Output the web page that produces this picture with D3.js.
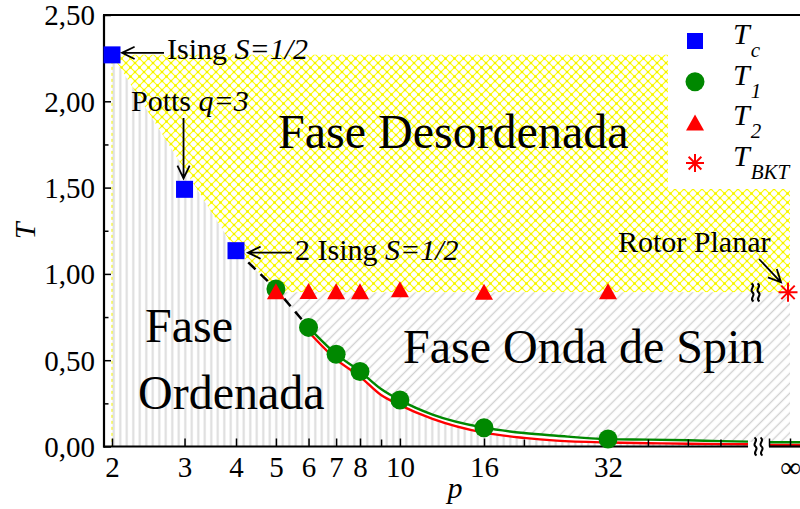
<!DOCTYPE html>
<html>
<head>
<meta charset="utf-8">
<script src="https://cdn.jsdelivr.net/npm/d3@7"></script>
<style>
  html, body { margin: 0; padding: 0; background: #fff; }
  svg { display: block; }
  text { font-family: "Liberation Serif", "Times New Roman", serif; fill: #000; }
</style>
</head>
<body>
<svg id="chart" width="800" height="509"></svg>
<script>
// ---- data ----
const pTc = [2, 3, 4];
const Tc = [2.269, 1.490, 1.1346];
const pT1 = [5, 6, 7, 8, 10, 16, 32];
const T1 = [0.913, 0.690, 0.535, 0.435, 0.269, 0.109, 0.043];
const pT2 = [5, 6, 7, 8, 10, 16, 32];
const T2 = [0.899, 0.901, 0.900, 0.900, 0.911, 0.897, 0.900];
const T_BKT = 0.893;

// fitted T1(p) and T2(p) curves sampled along p
const pFit = [6, 7, 8, 9, 10, 12, 16, 20, 24, 32, 40, 50, 60, 70];
const fitGreen = [0.690, 0.535, 0.435, 0.333, 0.269, 0.185, 0.109, 0.078, 0.0625, 0.043, 0.040, 0.036, 0.031, 0.028];
const fitRed = [0.665, 0.505, 0.405, 0.298, 0.240, 0.160, 0.080, 0.050, 0.034, 0.023, 0.019, 0.016, 0.014, 0.013];
const fitGreenInf = 0.025;
const fitRedInf = 0.009;

// axis ticks
const xTickLabels = [2, 3, 4, 5, 6, 7, 8, 10, 16, 32];
const xTickMinor = [9, 20, 40, 50, 60];
const yTickMajor = [0, 0.5, 1.0, 1.5, 2.0, 2.5];
const yTickMinor = [0.25, 0.75, 1.25, 1.75, 2.25];

// ---- scales ----
const x = d3.scaleLog().base(2).domain([2, 70]).range([112, 112 + 124 * Math.log2(35)]);
const xTail = d3.scaleLinear().domain([0, 1]).range([769, 811]);   // segment after the axis break, ∞ at 0.5
const y = d3.scaleLinear().domain([0, 2.5]).range([446.5, 15]);
const xLeft = 104, xRight = 800;
const xInf = xTail(0.5);

const svg = d3.select("#chart");
const defs = svg.append("defs");

// patterns
const pv = defs.append("pattern").attr("id", "vert").attr("patternUnits", "userSpaceOnUse")
  .attr("width", 6.5).attr("height", 10);
pv.append("rect").attr("width", 6.5).attr("height", 10).attr("fill", "#fff");
pv.append("line").attr("x1", 3.25).attr("x2", 3.25).attr("y1", 0).attr("y2", 10)
  .attr("stroke", "#dcdcdc").attr("stroke-width", 2);

const pd = defs.append("pattern").attr("id", "diag").attr("patternUnits", "userSpaceOnUse")
  .attr("width", 7).attr("height", 10).attr("patternTransform", "rotate(45)");
pd.append("rect").attr("width", 7).attr("height", 10).attr("fill", "#fff");
pd.append("line").attr("x1", 3.5).attr("x2", 3.5).attr("y1", 0).attr("y2", 10)
  .attr("stroke", "#d2d2d2").attr("stroke-width", 1.4);

const cs = 9;
const py = defs.append("pattern").attr("id", "cross").attr("patternUnits", "userSpaceOnUse")
  .attr("width", cs).attr("height", cs);
py.append("rect").attr("width", cs).attr("height", cs).attr("fill", "#fff");
py.append("path").attr("d", `M0,0L${cs},${cs}M${cs},0L0,${cs}`)
  .attr("stroke", "#ffff00").attr("stroke-width", 1.1).attr("fill", "none");
[[0, 0], [cs, 0], [0, cs], [cs, cs], [cs / 2, cs / 2]].forEach(([cx, cy]) =>
  py.append("circle").attr("cx", cx).attr("cy", cy).attr("r", 1.3).attr("fill", "#f2f200"));

// ---- phase regions ----
const P = (p, t) => [x(p), y(t)];
// where the dashed boundary crosses T_BKT (between p=5 and p=6)
const a = P(5, T1[0]), b = P(6, T1[1]);
const fr = (y(T_BKT) - a[1]) / (b[1] - a[1]);
const cross = [a[0] + fr * (b[0] - a[0]), y(T_BKT)];

const greenPts = pFit.map((p, i) => P(p, fitGreen[i]));
const redPts = pFit.map((p, i) => P(p, fitRed[i]));

// ordered phase
const ordered = [P(2, Tc[0]), P(4, Tc[2]), a, b, ...redPts, [x(70), y(0)], [x(2), y(0)]];
svg.append("path").attr("d", d3.line()(ordered) + "Z").attr("fill", "url(#vert)");

// disordered phase
const disordered = [P(2, Tc[0]), [xInf, y(Tc[0])], [xInf, y(T_BKT)], cross, a, P(4, Tc[2])];
svg.append("path").attr("d", d3.line()(disordered) + "Z").attr("fill", "url(#cross)");

// spin-wave phase
const spin = [cross, [xInf, y(T_BKT)], [xInf, y(fitGreenInf)], [xTail(0), y(fitGreenInf)],
  ...greenPts.slice().reverse()];
svg.append("path").attr("d", d3.line()(spin) + "Z").attr("fill", "url(#diag)");

// faint boundary at p = 2
svg.append("line").attr("x1", x(2)).attr("x2", x(2)).attr("y1", y(Tc[0])).attr("y2", y(0))
  .attr("stroke", "#f0f000").attr("stroke-width", 1).attr("stroke-dasharray", "3,3");

// legend box
svg.append("rect").attr("x", 668).attr("y", y(2.5)).attr("width", xRight - 668).attr("height", 189 - y(2.5))
  .attr("fill", "#fff");

// ---- fitted curves ----
const smooth = d3.line().curve(d3.curveMonotoneX);
svg.append("path").attr("d", smooth(redPts)).attr("fill", "none").attr("stroke", "#ff0000").attr("stroke-width", 2.4);
svg.append("path").attr("d", smooth(greenPts)).attr("fill", "none").attr("stroke", "#008800").attr("stroke-width", 2.4);
svg.append("line").attr("x1", xTail(0)).attr("x2", xTail(1)).attr("y1", y(fitRedInf)).attr("y2", y(fitRedInf))
  .attr("stroke", "#ff0000").attr("stroke-width", 2.4);
svg.append("line").attr("x1", xTail(0)).attr("x2", xTail(1)).attr("y1", y(fitGreenInf)).attr("y2", y(fitGreenInf))
  .attr("stroke", "#008800").attr("stroke-width", 2.4);

// dashed boundary from Tc(4) to the T1 branch
svg.append("path").attr("d", d3.line()([P(4, Tc[2]), a, b])).attr("fill", "none")
  .attr("stroke", "#000").attr("stroke-width", 2.5).attr("stroke-dasharray", "10,7");

// ---- axes ----
const fmt = d => d3.format(".2f")(d).replace(".", ",");
const gy = svg.append("g").attr("transform", `translate(${xLeft},0)`);
gy.call(d3.axisLeft(y).tickValues(yTickMajor).tickSize(-7).tickPadding(9).tickFormat(fmt));
gy.append("g").call(d3.axisLeft(y).tickValues(yTickMinor).tickSize(-4.5).tickFormat(""));
gy.selectAll(".domain").remove();
gy.selectAll("line").attr("stroke", "#000").attr("stroke-width", 1.5);
gy.selectAll("text").attr("font-size", 29).attr("font-family", "Liberation Serif, serif").attr("dy", "0.34em");

const gx = svg.append("g").attr("transform", `translate(0,${y(0)})`);
gx.call(d3.axisBottom(x).tickValues(xTickLabels).tickSize(-8).tickPadding(10).tickFormat(d3.format("d")));
gx.append("g").call(d3.axisBottom(x).tickValues(xTickMinor).tickSize(-7).tickFormat(""));
gx.selectAll(".domain").remove();
gx.selectAll("line").attr("stroke", "#000").attr("stroke-width", 1.5);
gx.selectAll("text").attr("font-size", 29).attr("font-family", "Liberation Serif, serif");

// tail of the axis after the break
const gxt = svg.append("g").attr("transform", `translate(0,${y(0)})`);
gxt.call(d3.axisBottom(xTail).tickValues([0, 0.5]).tickSize(-8).tickPadding(10)
  .tickFormat(d => d === 0.5 ? "∞" : ""));
gxt.selectAll(".domain").remove();
gxt.selectAll("line").attr("stroke", "#000").attr("stroke-width", 1.5);
gxt.selectAll("text").attr("font-size", 29).attr("font-family", "Liberation Serif, serif");

// frame lines
svg.append("line").attr("x1", xLeft).attr("x2", xLeft).attr("y1", y(2.5)).attr("y2", y(0) + 1)
  .attr("stroke", "#000").attr("stroke-width", 2.2);
svg.append("line").attr("x1", xLeft - 1).attr("x2", xRight).attr("y1", y(2.5)).attr("y2", y(2.5))
  .attr("stroke", "#000").attr("stroke-width", 2.2);
svg.append("line").attr("x1", xLeft - 1).attr("x2", x(70)).attr("y1", y(0)).attr("y2", y(0))
  .attr("stroke", "#000").attr("stroke-width", 2.2);
svg.append("line").attr("x1", xTail(0)).attr("x2", xRight).attr("y1", y(0)).attr("y2", y(0))
  .attr("stroke", "#000").attr("stroke-width", 2.2);

// break marks
function breakMark(cx, cy) {
  const g = svg.append("g").attr("transform", `translate(${cx},${cy})`);
  [-3, 3].forEach(dx => {
    g.append("path")
      .attr("d", `M${dx - 1},-9 C${dx + 4},-6 ${dx - 4},-3 ${dx},0 C${dx + 4},3 ${dx - 4},6 ${dx + 1},9`)
      .attr("fill", "none").attr("stroke", "#000").attr("stroke-width", 2);
  });
}
breakMark((x(70) + xTail(0)) / 2 - 3, y(T_BKT));
breakMark((x(70) + xTail(0)) / 2, y(0));

// ---- markers ----
const triPath = (w, h) => `M0,${-h / 2}L${w / 2},${h / 2}L${-w / 2},${h / 2}Z`;
svg.append("g").selectAll("circle").data(pT1).join("circle")
  .attr("cx", d => x(d)).attr("cy", (d, i) => y(T1[i])).attr("r", 9.5).attr("fill", "#008800");
svg.append("g").selectAll("path").data(pT2).join("path")
  .attr("transform", (d, i) => `translate(${x(d)},${y(T2[i])})`)
  .attr("d", triPath(18, 16)).attr("fill", "#ff0000");
svg.append("g").selectAll("rect").data(pTc).join("rect")
  .attr("x", d => x(d) - 8.5).attr("y", (d, i) => y(Tc[i]) - 8.5)
  .attr("width", 17).attr("height", 17).attr("fill", "#0000ff");

function asterisk(cx, cy, r) {
  const g = svg.append("g").attr("transform", `translate(${cx},${cy})`);
  const d = r * Math.SQRT1_2;
  g.append("path").attr("d", `M0,${-r}V${r}M${-r},0H${r}M${-d},${-d}L${d},${d}M${-d},${d}L${d},${-d}`)
    .attr("stroke", "#ff0000").attr("stroke-width", 2).attr("fill", "none");
}
asterisk(xInf - 2, y(T_BKT), 9.5);

// ---- legend ----
const legendRows = [
  { sub: "c", kind: "square" },
  { sub: "1", kind: "circle" },
  { sub: "2", kind: "triangle" },
  { sub: "BKT", kind: "asterisk" }
];
legendRows.forEach((r, i) => {
  const cy = 41 + i * 40.7;
  if (r.kind === "square") svg.append("rect").attr("x", 695 - 8).attr("y", cy - 8).attr("width", 16).attr("height", 16).attr("fill", "#0000ff");
  if (r.kind === "circle") svg.append("circle").attr("cx", 695).attr("cy", cy).attr("r", 9.5).attr("fill", "#008800");
  if (r.kind === "triangle") svg.append("path").attr("transform", `translate(695,${cy})`).attr("d", triPath(18, 16)).attr("fill", "#ff0000");
  if (r.kind === "asterisk") asterisk(695, cy, 9);
  const t = svg.append("text").attr("x", 733).attr("y", cy + 3).attr("font-size", 30).attr("font-style", "italic");
  t.append("tspan").text("T");
  t.append("tspan").attr("dy", 13).attr("dx", 1).attr("font-size", 21).text(r.sub);
});

// ---- annotations ----
function arrow(x1, y1, x2, y2) {
  const ang = Math.atan2(y2 - y1, x2 - x1), L = 14, W = 0.45;
  const h1 = [x2 - L * Math.cos(ang - W), y2 - L * Math.sin(ang - W)];
  const h2 = [x2 - L * Math.cos(ang + W), y2 - L * Math.sin(ang + W)];
  svg.append("path").attr("d", `M${x1},${y1}L${x2},${y2}M${h1[0]},${h1[1]}L${x2},${y2}L${h2[0]},${h2[1]}`)
    .attr("fill", "none").attr("stroke", "#000").attr("stroke-width", 1.8);
}
function label(xp, yp, parts, size) {
  const t = svg.append("text").attr("x", xp).attr("y", yp).attr("font-size", size);
  parts.forEach(([s, it]) => t.append("tspan").attr("font-style", it ? "italic" : "normal").text(s));
}
arrow(164, y(Tc[0]) - 2, x(2) + 10, y(Tc[0]) - 2);
label(167, 59, [["Ising ", false], ["S=1/2", true]], 30);
arrow(x(3) - 1, 118, x(3) - 1, y(Tc[1]) - 11);
label(131, 111, [["Potts ", false], ["q=3", true]], 30);
arrow(292, y(Tc[2]) + 2, x(4) + 12, y(Tc[2]) + 2);
label(295, 260, [["2 Ising ", false], ["S=1/2", true]], 30);
arrow(759, 259, xInf - 9, y(T_BKT) - 10);
label(618, 252, [["Rotor Planar", false]], 30);

// phase names
label(278, 148, [["Fase Desordenada", false]], 48);
label(145, 342, [["Fase", false]], 48);
label(138, 409, [["Ordenada", false]], 48);
label(403, 363, [["Fase Onda de Spin", false]], 48);

// axis titles
svg.append("text").attr("x", 455).attr("y", 498).attr("text-anchor", "middle")
  .attr("font-size", 30).attr("font-style", "italic").text("p");
svg.append("text").attr("transform", "translate(35,231) rotate(-90)").attr("text-anchor", "middle")
  .attr("font-size", 30).attr("font-style", "italic").text("T");
</script>
</body>
</html>
